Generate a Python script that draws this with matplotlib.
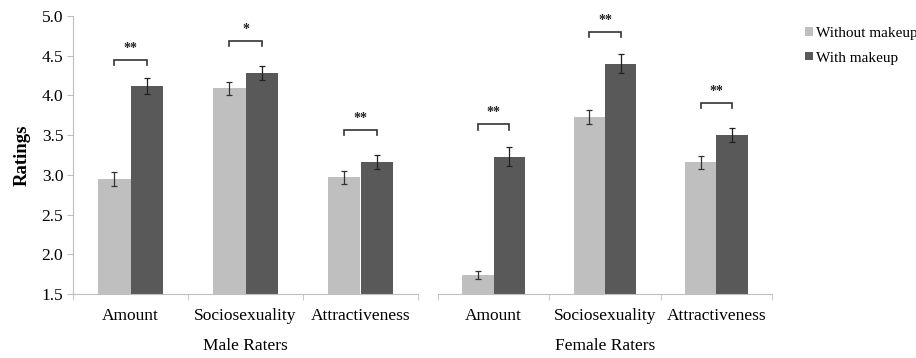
import matplotlib
matplotlib.use("Agg")
import matplotlib.pyplot as plt
import numpy as np

categories = ["Amount", "Sociosexuality", "Attractiveness"]
groups = ["Male Raters", "Female Raters"]
without_vals = [[2.95, 4.09, 2.97], [1.74, 3.73, 3.16]]
with_vals = [[4.12, 4.28, 3.16], [3.23, 4.40, 3.50]]
without_err = [[0.09, 0.08, 0.08], [0.05, 0.09, 0.08]]
with_err = [[0.10, 0.09, 0.09], [0.12, 0.12, 0.09]]
sig_labels = [["**", "*", "**"], ["**", "**", "**"]]
sig_heights = [[4.45, 4.69, 3.57], [3.64, 4.80, 3.91]]
series_names = ["Without makeup", "With makeup"]

plt.rcParams['font.family'] = ['Liberation Serif', 'DejaVu Serif']
light = "#BFBFBF"
dark = "#595959"
spine_c = "#BFBFBF"

fig = plt.figure(figsize=(9.16, 3.58), dpi=100)
bottom = 1 - 294/358
height = (294 - 16)/358
ax1 = fig.add_axes([73/916, bottom, (418-73)/916, height])
ax2 = fig.add_axes([438/916, bottom, (772-438)/916, height], sharey=ax1)

w = 0.28
x = np.arange(len(categories))
for gi, ax in enumerate([ax1, ax2]):
    ax.bar(x - w/2, without_vals[gi], w, color=light, yerr=without_err[gi],
           error_kw=dict(ecolor="#333333", elinewidth=0.9, capsize=2.5, capthick=0.9),
           label=series_names[0], zorder=2)
    ax.bar(x + w/2, with_vals[gi], w, color=dark, yerr=with_err[gi],
           error_kw=dict(ecolor="#222222", elinewidth=0.9, capsize=2.5, capthick=0.9),
           label=series_names[1], zorder=2)
    for ci in range(len(categories)):
        h = sig_heights[gi][ci]
        xl, xr = ci - w/2, ci + w/2
        ax.plot([xl, xl, xr, xr], [h - 0.07, h, h, h - 0.07], color="#333333", lw=1.2,
                solid_joinstyle="miter", zorder=3)
        ax.text(ci, h + 0.06, sig_labels[gi][ci], ha="center", va="bottom",
                fontsize=10, fontweight="bold", color="#222222")
    ax.set_xlim(-0.5, 2.5)
    ax.set_xticks(x)
    ax.set_xticklabels(categories, fontsize=12.5)
    ax.set_xticks([-0.5, 0.5, 1.5, 2.5], minor=True)
    ax.tick_params(axis="x", which="major", length=0, pad=10)
    ax.tick_params(axis="x", which="minor", length=4, color=spine_c, direction="out")
    ax.spines["top"].set_visible(False)
    ax.spines["right"].set_visible(False)
    ax.spines["bottom"].set_color(spine_c)
    ax.spines["left"].set_color(spine_c)
    ax.set_xlabel(groups[gi], fontsize=12.5, labelpad=10)

ax1.set_ylim(1.5, 5.0)
ax1.set_yticks(np.arange(1.5, 5.01, 0.5))
ax1.set_yticklabels([f"{v:.1f}" for v in np.arange(1.5, 5.01, 0.5)], fontsize=12.5)
ax1.tick_params(axis="y", length=4, color=spine_c, pad=3)
ax1.set_ylabel("Ratings", fontsize=13.5, fontweight="bold", labelpad=8)
ax2.spines["left"].set_visible(False)
ax2.tick_params(axis="y", left=False, labelleft=False)

handles, labels = ax1.get_legend_handles_labels()
fig.legend([h[0] for h in handles], labels,
           loc="upper left", bbox_to_anchor=(799/916, 1 - 21/358), frameon=False,
           fontsize=11, handlelength=0.5, handleheight=0.5, handletextpad=0.2,
           labelspacing=0.75, borderaxespad=0)

fig.savefig("out.png", dpi=100)
